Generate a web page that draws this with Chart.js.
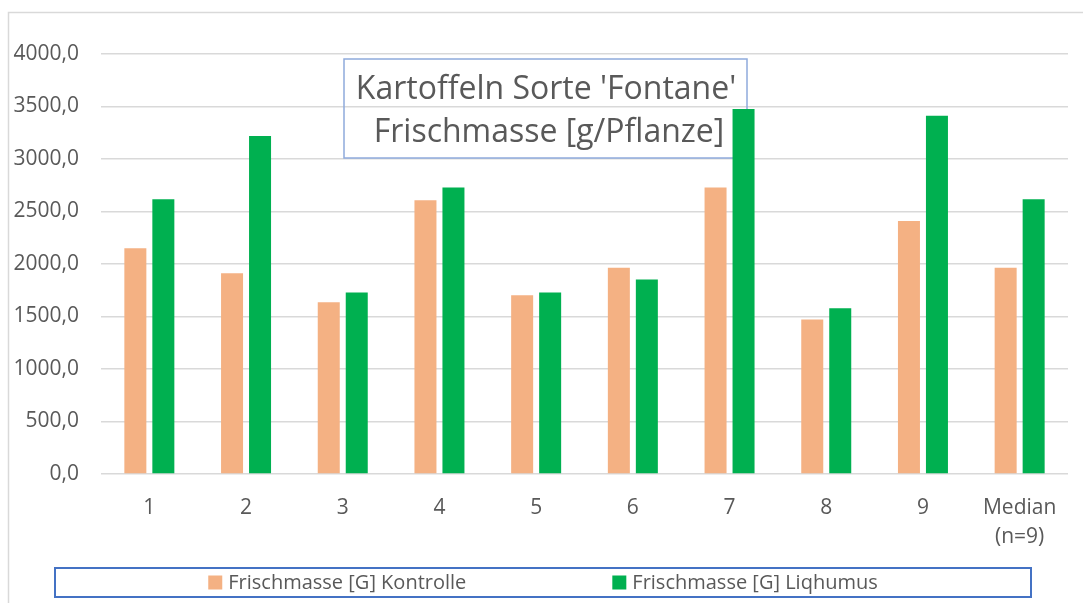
<!DOCTYPE html>
<html>
<head>
<meta charset="utf-8">
<script src="https://cdn.jsdelivr.net/npm/chart.js@4/dist/chart.umd.min.js"></script>
<style>
    body { margin: 0; background: #ffffff; }
    #wrap { position: relative; width: 1083px; height: 603px; }
</style>
</head>
<body>
<div id="wrap"><canvas id="chart" width="1083" height="603"></canvas></div>
<script>
// Data
const categories = ['1', '2', '3', '4', '5', '6', '7', '8', '9', ['Median', '(n=9)']];
const kontrolle = [2149, 1913, 1636, 2607, 1703, 1965, 2729, 1471, 2410, 1965];
const liqhumus = [2617, 3219, 1729, 2729, 1729, 1853, 3477, 1579, 3413, 2617];
const seriesLabels = ['Frischmasse [G] Kontrolle', 'Frischmasse [G] Liqhumus'];
const seriesColors = ['#f4b183', '#00b050'];
const titleLines = ["Kartoffeln Sorte 'Fontane'", 'Frischmasse [g/Pflanze]'];
const yTicks = { min: 0, max: 4000, step: 500 };

const FONT = "'Open Sans', 'Noto Sans', sans-serif";
const TEXT_COLOR = '#595959';

// thin grey frame (only the top and left edges are visible in the crop)
const framePlugin = {
    id: 'frame',
    beforeDraw(chart) {
        const ctx = chart.ctx;
        ctx.save();
        ctx.strokeStyle = '#d9d9d9';
        ctx.lineWidth = 1.5;
        ctx.beginPath();
        ctx.moveTo(8.5, chart.height);
        ctx.lineTo(8.5, 12.5);
        ctx.lineTo(chart.width, 12.5);
        ctx.stroke();
        ctx.restore();
    }
};

// title box sits on the plot, under the bars
const titlePlugin = {
    id: 'boxTitle',
    beforeDatasetsDraw(chart) {
        const ctx = chart.ctx;
        ctx.save();
        ctx.strokeStyle = '#8faadc';
        ctx.lineWidth = 1.5;
        ctx.strokeRect(344, 59, 403, 99);
        ctx.fillStyle = TEXT_COLOR;
        ctx.font = `32px ${FONT}`;
        ctx.textAlign = 'center';
        ctx.textBaseline = 'alphabetic';
        ctx.fillText(titleLines[0], 546, 99);
        ctx.fillText(titleLines[1], 549, 142);
        ctx.restore();
    }
};

// legend in a blue box at the bottom
const legendPlugin = {
    id: 'boxLegend',
    afterDraw(chart) {
        const ctx = chart.ctx;
        const box = { x: 55, y: 568, w: 976, h: 29 };
        ctx.save();
        ctx.strokeStyle = '#4472c4';
        ctx.lineWidth = 2;
        ctx.strokeRect(box.x, box.y, box.w, box.h);

        ctx.font = `20px ${FONT}`;
        ctx.textBaseline = 'middle';
        ctx.textAlign = 'left';
        const sq = 14, gapText = 6, gapItems = 146;
        const items = chart.data.datasets.map(ds => ({
            label: ds.label,
            color: ds.backgroundColor,
            width: sq + gapText + ctx.measureText(ds.label).width
        }));
        const total = items.reduce((s, it) => s + it.width, 0) + gapItems * (items.length - 1);
        let x = box.x + box.w / 2 - total / 2;
        const cy = box.y + box.h / 2;
        items.forEach(it => {
            ctx.fillStyle = it.color;
            ctx.fillRect(x, cy - sq / 2, sq, sq);
            ctx.fillStyle = TEXT_COLOR;
            ctx.fillText(it.label, x + sq + gapText, cy + 1);
            x += it.width + gapItems;
        });
        ctx.restore();
    }
};

const formatTick = v => v.toFixed(1).replace('.', ',');

new Chart(document.getElementById('chart').getContext('2d'), {
    type: 'bar',
    data: {
        labels: categories,
        datasets: [
            {
                label: seriesLabels[0],
                data: kontrolle,
                backgroundColor: seriesColors[0],
                barPercentage: 0.786,
                categoryPercentage: 0.579
            },
            {
                label: seriesLabels[1],
                data: liqhumus,
                backgroundColor: seriesColors[1],
                barPercentage: 0.786,
                categoryPercentage: 0.579
            }
        ]
    },
    options: {
        responsive: false,
        animation: false,
        devicePixelRatio: 1,
        layout: { padding: { top: 54, right: 15, left: 0, bottom: 0 } },
        plugins: {
            legend: { display: false },
            title: { display: false },
            tooltip: { enabled: false }
        },
        scales: {
            x: {
                grid: { display: false, drawTicks: false },
                border: { display: false },
                ticks: {
                    color: TEXT_COLOR,
                    font: { family: FONT, size: 21, lineHeight: 1.35 },
                    padding: 20,
                    maxRotation: 0,
                    autoSkip: false
                },
                afterFit: scale => { scale.height = 129; }
            },
            y: {
                min: yTicks.min,
                max: yTicks.max,
                grid: { color: '#d9d9d9', lineWidth: 1.5, drawTicks: false },
                border: { display: false },
                ticks: {
                    stepSize: yTicks.step,
                    color: TEXT_COLOR,
                    font: { family: FONT, size: 21 },
                    padding: 22,
                    callback: value => formatTick(value)
                },
                afterFit: scale => { scale.width = 101; }
            }
        }
    },
    plugins: [framePlugin, titlePlugin, legendPlugin]
});
</script>
</body>
</html>
